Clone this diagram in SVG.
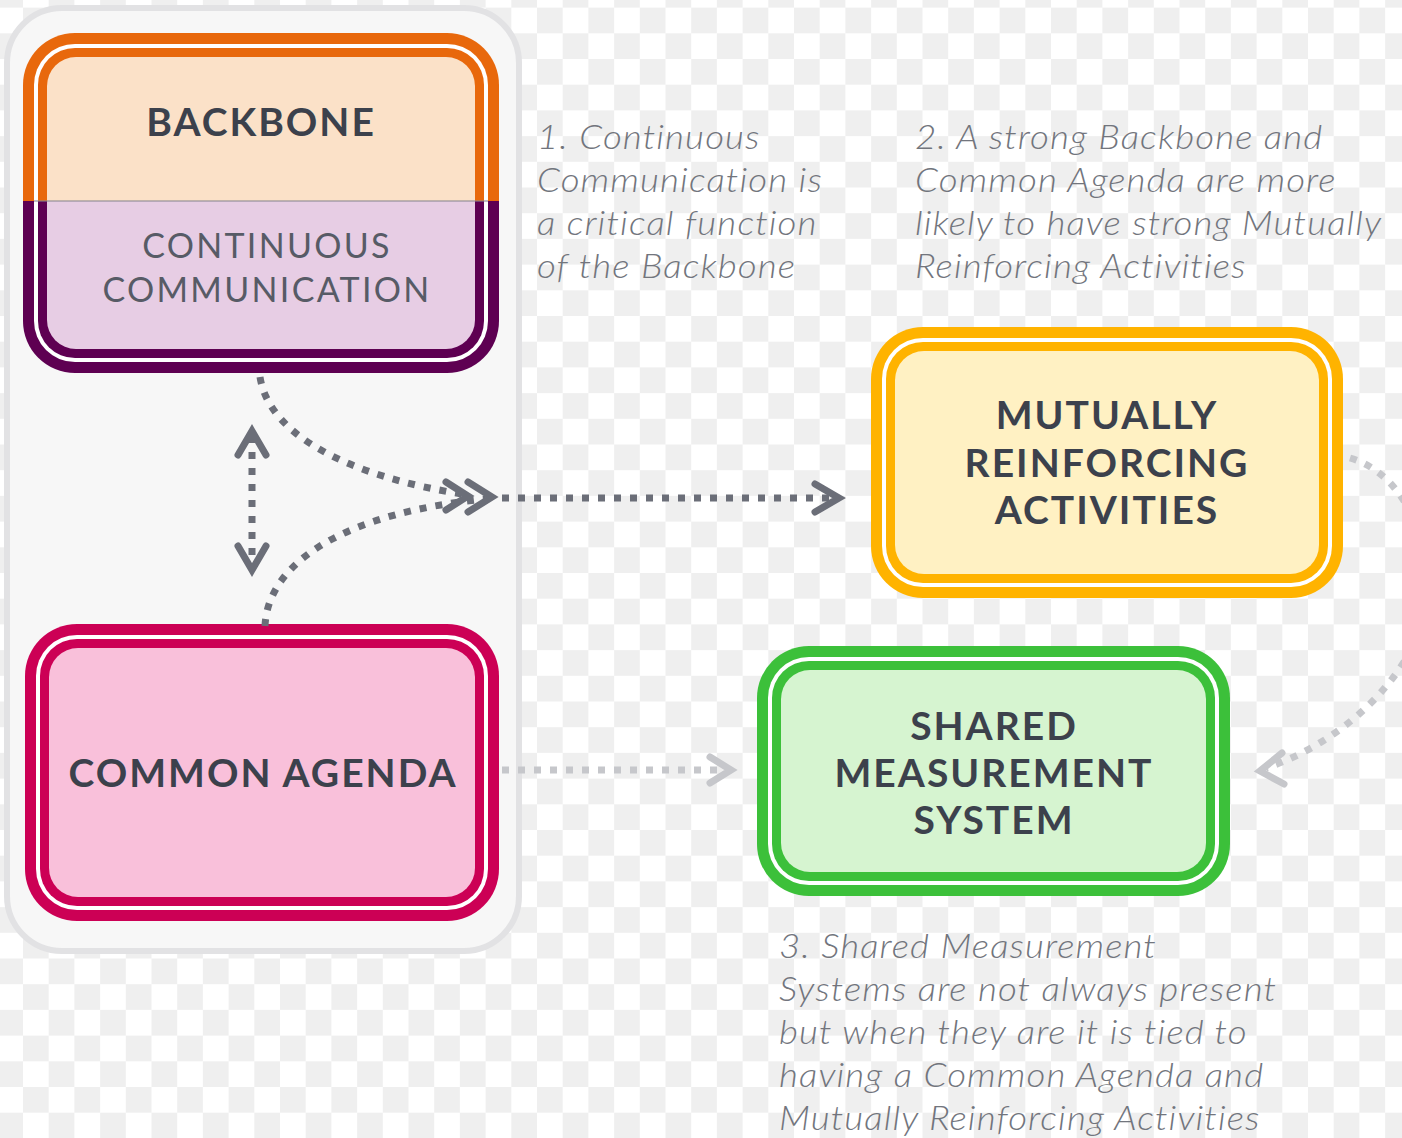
<svg xmlns="http://www.w3.org/2000/svg" width="1402" height="1138" viewBox="0 0 1402 1138">
  <defs>
    <!-- transparency-style checkerboard backdrop -->
    <pattern id="checker" x="23" y="7.6" width="51.4" height="51.4" patternUnits="userSpaceOnUse">
      <rect width="51.4" height="51.4" fill="#ffffff"/>
      <rect x="0" y="0" width="25.7" height="25.7" fill="#efefef"/>
      <rect x="25.7" y="25.7" width="25.7" height="25.7" fill="#efefef"/>
    </pattern>
    <!-- backbone node: orange upper half, purple lower half -->
    <linearGradient id="bbStroke" gradientUnits="userSpaceOnUse" x1="0" y1="0" x2="0" y2="1138">
      <stop offset="0.1766" stop-color="#e8680c"/>
      <stop offset="0.1766" stop-color="#5e0052"/>
    </linearGradient>
    <linearGradient id="bbFill" gradientUnits="userSpaceOnUse" x1="0" y1="0" x2="0" y2="1138">
      <stop offset="0.1766" stop-color="#fbe1c8"/>
      <stop offset="0.1766" stop-color="#e7cde4"/>
    </linearGradient>
    <style>
      .gap { fill: #ffffff; }
      .label { font-family: Lato, "Noto Sans", sans-serif; font-weight: 700; font-size: 39px; letter-spacing: 2px; fill: #3c414c; text-anchor: middle; }
      .sub { font-family: Lato, "Noto Sans", sans-serif; font-weight: 400; font-size: 34px; letter-spacing: 2.3px; fill: #575b66; text-anchor: middle; }
      .note { font-family: Lato, "Noto Sans", sans-serif; font-weight: 300; font-style: italic; font-size: 34px; letter-spacing: 1px; fill: #72757d; }
      .dark { fill: none; stroke: #6b6e78; stroke-width: 7; stroke-dasharray: 7 9; }
      .light { fill: none; stroke: #c6c7cb; stroke-width: 7; stroke-dasharray: 7 9; }
      .headDark { fill: none; stroke: #6b6e78; stroke-width: 7; stroke-linecap: round; stroke-linejoin: miter; }
      .headLight { fill: none; stroke: #c6c7cb; stroke-width: 7; stroke-linecap: round; stroke-linejoin: miter; }
    </style>
  </defs>

  <rect width="1402" height="1138" fill="url(#checker)"/>

  <!-- grouping panel behind the left column -->
  <rect x="7" y="8" width="512" height="943" rx="55" fill="#f7f7f7" stroke="#e2e2e4" stroke-width="6"/>

  <!-- each node: outer ring 11px, white gap 4px, inner ring 9px, then the fill -->
  <g id="backbone">
    <rect x="23" y="33" width="476" height="340" rx="52" fill="url(#bbStroke)"/>
    <rect x="34" y="44" width="454" height="318" rx="41" class="gap"/>
    <rect x="38" y="48" width="446" height="310" rx="37" fill="url(#bbStroke)"/>
    <rect x="47" y="57" width="428" height="292" rx="29" fill="url(#bbFill)"/>
    <line x1="34" y1="201" x2="488" y2="201" stroke="#8a8790" stroke-width="1.5" opacity="0.7"/>
    <text x="261" y="136" class="label">BACKBONE</text>
    <text x="267" y="258" class="sub">CONTINUOUS</text>
    <text x="267" y="302" class="sub">COMMUNICATION</text>
  </g>

  <g id="common-agenda">
    <rect x="25" y="624" width="474" height="297" rx="52" fill="#cc0055"/>
    <rect x="36" y="635" width="452" height="275" rx="41" class="gap"/>
    <rect x="40" y="639" width="444" height="267" rx="37" fill="#cc0055"/>
    <rect x="49" y="648" width="426" height="249" rx="29" fill="#f9c0da"/>
    <text x="263" y="787" class="label">COMMON AGENDA</text>
  </g>

  <g id="mutually-reinforcing">
    <rect x="871" y="327" width="472" height="271" rx="52" fill="#ffb300"/>
    <rect x="882" y="338" width="450" height="249" rx="41" class="gap"/>
    <rect x="886" y="342" width="442" height="241" rx="37" fill="#ffb300"/>
    <rect x="895" y="351" width="424" height="223" rx="29" fill="#fff1c3"/>
    <text x="1107" y="429" class="label">MUTUALLY</text>
    <text x="1107" y="477" class="label">REINFORCING</text>
    <text x="1107" y="524" class="label">ACTIVITIES</text>
  </g>

  <g id="shared-measurement">
    <rect x="757" y="646" width="473" height="250" rx="52" fill="#3cc03a"/>
    <rect x="768" y="657" width="451" height="228" rx="41" class="gap"/>
    <rect x="772" y="661" width="443" height="220" rx="37" fill="#3cc03a"/>
    <rect x="781" y="670" width="425" height="202" rx="29" fill="#d6f4d0"/>
    <text x="994" y="740" class="label">SHARED</text>
    <text x="994" y="787" class="label">MEASUREMENT</text>
    <text x="994" y="834" class="label">SYSTEM</text>
  </g>

  <g id="connectors">
    <!-- two-way link between Backbone and Common Agenda -->
    <line x1="252" y1="436" x2="252" y2="566" class="dark"/>
    <polyline points="238,455 252,431 266,455" class="headDark"/>
    <polyline points="238,546 252,570 266,546" class="headDark"/>
    <!-- Backbone and Common Agenda feeding Mutually Reinforcing Activities -->
    <path d="M260,377 C270,440 360,478 462,494" class="dark"/>
    <path d="M265,626 C268,560 350,512 486,499" class="dark"/>
    <polyline points="446,482 468,496 446,510" class="headDark"/>
    <polyline points="468,482 492,497 468,512" class="headDark"/>
    <line x1="502" y1="498" x2="832" y2="498" class="dark"/>
    <polyline points="815,484 839,498 815,512" class="headDark"/>
    <!-- weaker links toward Shared Measurement System -->
    <line x1="502" y1="770" x2="724" y2="770" class="light"/>
    <polyline points="710,757 731,770 710,783" class="headLight"/>
    <path d="M1350,458 C1425,480 1450,600 1404,662 C1372,712 1320,750 1266,768" class="light"/>
    <polyline points="1282,753 1260,771 1284,784" class="headLight"/>
  </g>

  <!-- side notes, set slightly wide -->
  <g id="notes" transform="scale(1.08,1)">
    <text class="note"><tspan x="497.2" y="149">1. Continuous</tspan><tspan x="497.2" y="192">Communication is</tspan><tspan x="497.2" y="235">a critical function</tspan><tspan x="497.2" y="278">of the Backbone</tspan></text>
    <text class="note"><tspan x="847.2" y="149">2. A strong Backbone and</tspan><tspan x="847.2" y="192">Common Agenda are more</tspan><tspan x="847.2" y="235">likely to have strong Mutually</tspan><tspan x="847.2" y="278">Reinforcing Activities</tspan></text>
    <text class="note"><tspan x="721.3" y="958">3. Shared Measurement</tspan><tspan x="721.3" y="1001">Systems are not always present</tspan><tspan x="721.3" y="1044">but when they are it is tied to</tspan><tspan x="721.3" y="1087">having a Common Agenda and</tspan><tspan x="721.3" y="1130">Mutually Reinforcing Activities</tspan></text>
  </g>
</svg>
